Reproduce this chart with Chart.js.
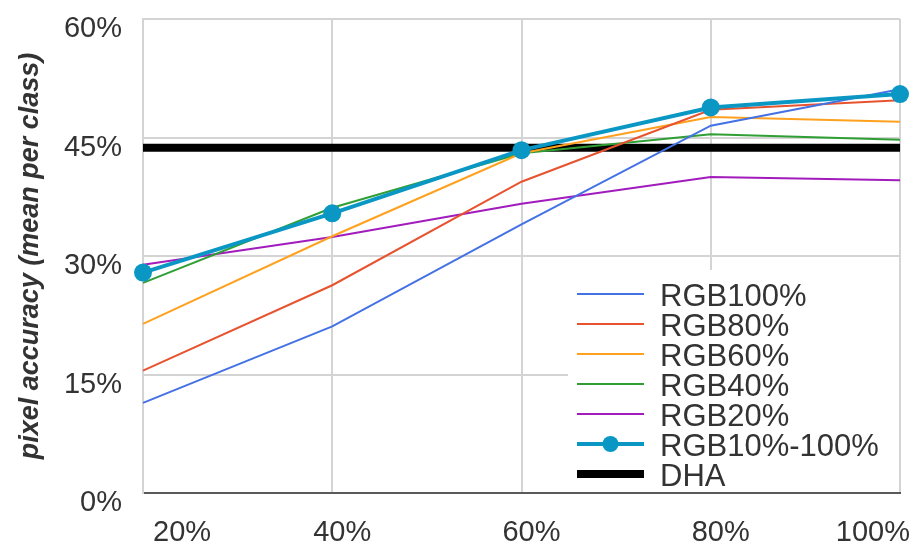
<!DOCTYPE html>
<html>
<head>
<meta charset="utf-8">
<script src="https://cdn.jsdelivr.net/npm/chart.js@4/dist/chart.umd.min.js"></script>
<style>
  html, body { margin: 0; padding: 0; background: #fff; }
  #wrap { width: 924px; height: 550px; position: relative; }
</style>
</head>
<body>
<div id="wrap"><canvas id="chart"></canvas></div>
<script>
// data (percent)
const categories = ["20%", "40%", "60%", "80%", "100%"];
const rgb100 = [11.4, 21.1, 34.0, 46.5, 51.1];
const rgb80 = [15.5, 26.3, 39.4, 48.5, 49.7];
const rgb60 = [21.4, 32.5, 43.0, 47.6, 47.0];
const rgb40 = [26.6, 36.1, 43.0, 45.4, 44.7];
const rgb20 = [28.9, 32.4, 36.6, 40.0, 39.6];
const rgb10to100 = [27.9, 35.4, 43.4, 48.8, 50.5];
const dha = [43.7, 43.7, 43.7, 43.7, 43.7];
const yTicks = [0, 15, 30, 45, 60];

const FONT = '"Liberation Sans", Arial, sans-serif';

// legend drawn inside the plot, bottom right, on a white box
const insideLegend = {
    id: "insideLegend",
    beforeDatasetsDraw(chart) {
        const { ctx, chartArea } = chart;
        const w = 331, h = 222;
        const left = chartArea.right - 1 - w;
        const top = chartArea.bottom - 1 - h;
        ctx.save();
        ctx.fillStyle = "#fff";
        ctx.fillRect(left, top, w, h);
        ctx.font = "31px " + FONT;
        ctx.textBaseline = "middle";
        ctx.lineCap = "butt";
        chart.data.datasets.forEach((ds, i) => {
            const y = top + 24 + i * 30;
            const x1 = left + 9, x2 = left + 76;
            ctx.strokeStyle = ds.borderColor;
            ctx.lineWidth = ds.borderWidth;
            ctx.beginPath();
            ctx.moveTo(x1, y);
            ctx.lineTo(x2, y);
            ctx.stroke();
            if (ds.pointRadius > 0) {
                ctx.fillStyle = ds.pointBackgroundColor;
                ctx.beginPath();
                ctx.arc((x1 + x2) / 2, y, ds.pointRadius - 1, 0, Math.PI * 2);
                ctx.fill();
            }
            ctx.fillStyle = "#333";
            ctx.fillText(ds.label, left + 92, y + 3);
        });
        ctx.restore();
    }
};

function line(label, data, color, width, order) {
    return {
        label: label,
        data: data,
        borderColor: color,
        borderWidth: width,
        pointRadius: 0,
        pointHoverRadius: 0,
        tension: 0,
        fill: false,
        order: order
    };
}

const cyan = line("RGB10%-100%", rgb10to100, "#0a97c4", 4, 0);
cyan.pointRadius = 9;
cyan.pointBackgroundColor = "#0a97c4";
cyan.pointBorderWidth = 0;

new Chart(document.getElementById("chart"), {
    type: "line",
    data: {
        labels: categories,
        datasets: [
            line("RGB100%", rgb100, "#4472e4", 2, 1),
            line("RGB80%", rgb80, "#e8532f", 2, 1),
            line("RGB60%", rgb60, "#ffa11f", 2, 1),
            line("RGB40%", rgb40, "#2f9f35", 2, 1),
            line("RGB20%", rgb20, "#a21cbd", 2, 1),
            cyan,
            line("DHA", dha, "#000000", 8, 2)
        ]
    },
    options: {
        responsive: true,
        maintainAspectRatio: false,
        animation: false,
        layout: { padding: { top: 19, right: 24, bottom: 0, left: 0 } },
        plugins: { legend: { display: false }, tooltip: { enabled: false } },
        scales: {
            x: {
                grid: { color: "#d4d4d4", lineWidth: 2, drawTicks: false },
                border: { color: "#5a5a5a", width: 2 },
                ticks: {
                    color: "#333",
                    font: { family: FONT, size: 29 },
                    padding: 23,
                    align: "inner",
                    labelOffset: 10,
                    maxRotation: 0,
                    autoSkip: false
                },
                afterFit(scale) {
                    scale.height = 57;
                    scale.paddingLeft = 0;
                    scale.paddingRight = 0;
                }
            },
            y: {
                min: 0,
                max: 60,
                afterBuildTicks(scale) {
                    scale.ticks = yTicks.map(v => ({ value: v }));
                },
                grid: {
                    color: c => (c.tick && c.tick.value === 0 ? "rgba(0,0,0,0)" : "#d4d4d4"),
                    lineWidth: 2,
                    drawTicks: false
                },
                border: { color: "#d4d4d4", width: 2 },
                ticks: {
                    color: "#333",
                    font: { family: FONT, size: 29 },
                    padding: 21,
                    labelOffset: 10,
                    callback: v => v + "%"
                },
                title: {
                    display: true,
                    text: "pixel accuracy (mean per class)",
                    color: "#333",
                    font: { family: FONT, size: 27, style: "italic", weight: "bold" },
                    padding: { top: 14, bottom: 0 }
                },
                afterFit(scale) {
                    scale.width = 143;
                    scale.paddingTop = 0;
                    scale.paddingBottom = 0;
                }
            }
        }
    },
    plugins: [insideLegend]
});
</script>
</body>
</html>
